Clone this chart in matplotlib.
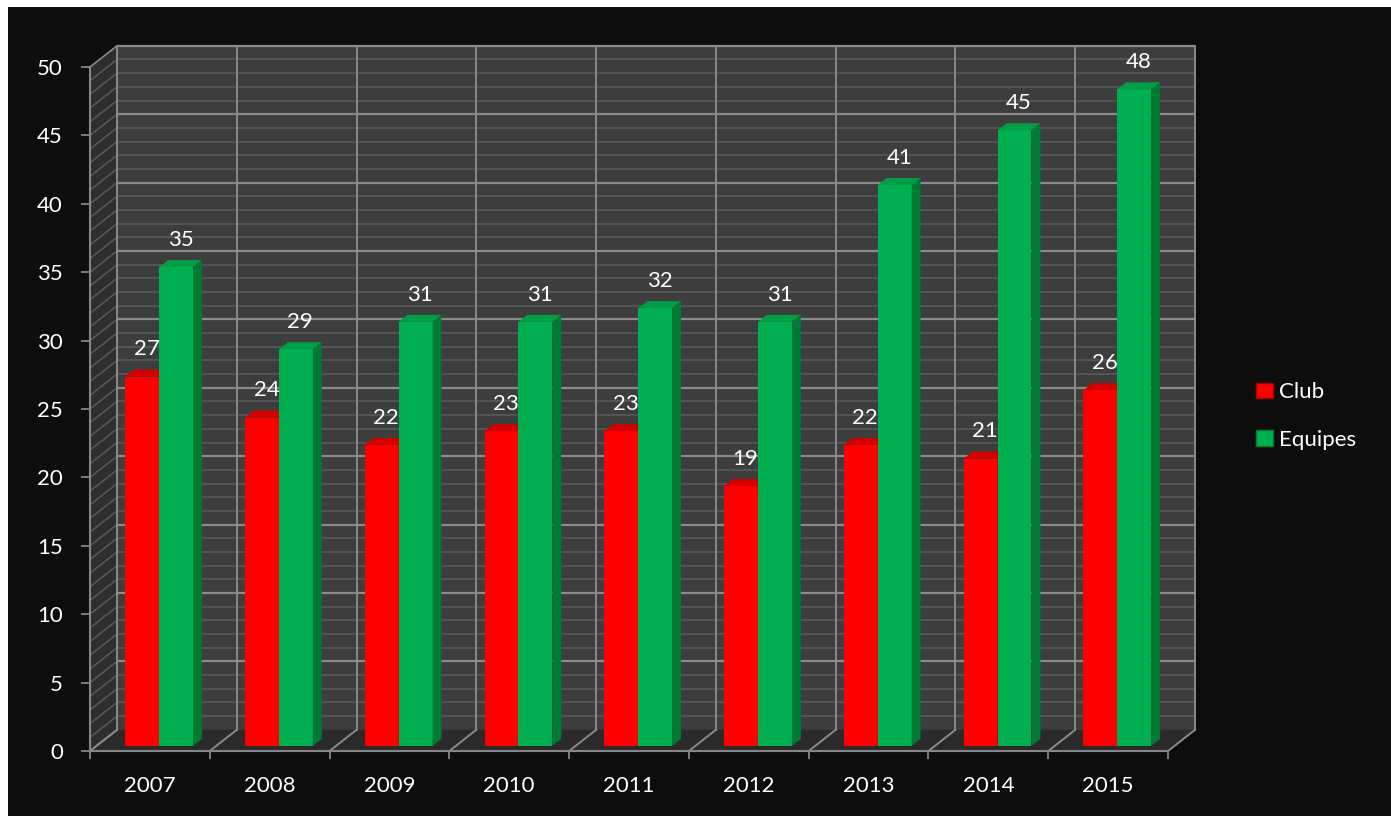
import matplotlib
matplotlib.use("Agg")
import matplotlib.pyplot as plt
from matplotlib.patches import Polygon, Rectangle, Patch
import numpy as np

# ---------------- data ----------------
years = ["2007", "2008", "2009", "2010", "2011", "2012", "2013", "2014", "2015"]
club = [27, 24, 22, 23, 23, 19, 22, 21, 26]
equipes = [35, 29, 31, 31, 32, 31, 41, 45, 48]
series_names = ["Club", "Equipes"]

# ---------------- style ----------------
W, H = 1391, 816
FONT = ["Lato", "DejaVu Sans"]
plt.rcParams["font.family"] = FONT
FS = 16

BG = "#0d0d0d"
WALL = "#3d3d3d"
SIDE = "#2e2e2e"
FLOOR = "#2a2a2a"
MINOR = "#575757"
MAJOR = "#8a8a8a"
AXIS = "#868686"

faces = {
    "Club": ("#ff0000", "#d40000", "#a80000"),
    "Equipes": ("#00b050", "#009e46", "#007a35"),
}

# 3D depth offsets (in data units of the front plane)
DX = 0.2254
DY = 1.55
ZF, ZB = 0.24, 0.57          # bar depth range (fraction of depth)
BW = 0.283                    # bar width
OFFS = [0.24, 0.523]          # bar left positions inside a category
YMAX = 50

fig = plt.figure(figsize=(W / 100, H / 100), dpi=100, facecolor=BG)
# white strips at top and left edge of the picture
fig.patches.append(Rectangle((0, (H - 7) / H), 1, 7 / H + 0.01,
                             transform=fig.transFigure, facecolor="white",
                             edgecolor="none", zorder=-10))
fig.patches.append(Rectangle((0, 0), 8 / W, 1,
                             transform=fig.transFigure, facecolor="white",
                             edgecolor="none", zorder=-10))

ax = fig.add_axes([90 / W, (H - 751) / H, 1078 / W, 684 / H])
ax.set_facecolor("none")
ax.set_xlim(0, len(years))
ax.set_ylim(0, YMAX)

n = len(years)

def P(x, y, z):
    return (x + z * DX, y + z * DY)

# back wall
ax.add_patch(Polygon([P(0, 0, 1), P(n, 0, 1), P(n, YMAX, 1), P(0, YMAX, 1)],
                     closed=True, facecolor=WALL, edgecolor="none", zorder=1, clip_on=False))
# left side wall
ax.add_patch(Polygon([P(0, 0, 0), P(0, 0, 1), P(0, YMAX, 1), P(0, YMAX, 0)],
                     closed=True, facecolor=SIDE, edgecolor="none", zorder=1, clip_on=False))
# floor
ax.add_patch(Polygon([P(0, 0, 0), P(n, 0, 0), P(n, 0, 1), P(0, 0, 1)],
                     closed=True, facecolor=FLOOR, edgecolor="none", zorder=1, clip_on=False))

# horizontal gridlines on back wall and side wall
for v in range(0, YMAX + 1):
    major = (v % 5 == 0)
    col = MAJOR if major else MINOR
    lw = 1.6 if major else 1.3
    if v > 0:
        x0, y0 = P(0, v, 1)
        x1, y1 = P(n, v, 1)
        ax.plot([x0, x1], [y0, y1], color=col, lw=lw, zorder=2, clip_on=False,
                solid_capstyle="butt")
    a = P(0, v, 0); b = P(0, v, 1)
    ax.plot([a[0], b[0]], [a[1], b[1]], color=MAJOR if v in (0, YMAX) else MINOR,
            lw=1.2, zorder=2, clip_on=False)

# vertical gridlines on back wall + floor diagonals
for i in range(0, n + 1):
    b0 = P(i, 0, 1); b1 = P(i, YMAX, 1)
    ax.plot([b0[0], b1[0]], [b0[1], b1[1]], color=MAJOR, lw=1.4, zorder=2, clip_on=False)
    f0 = P(i, 0, 0)
    ax.plot([f0[0], b0[0]], [f0[1], b0[1]], color=MAJOR, lw=1.4, zorder=2, clip_on=False)

# bars
for i in range(n):
    for s, (name, vals) in enumerate(zip(series_names, [club, equipes])):
        front, top, side = faces[name]
        v = vals[i]
        xl = i + OFFS[s]
        xr = xl + BW
        ax.bar(xl + ZF * DX, v, width=BW, bottom=ZF * DY, align="edge",
               color=front, edgecolor="none", zorder=5 + i * 2 + s)
        ax.add_patch(Polygon([P(xl, v, ZF), P(xr, v, ZF), P(xr, v, ZB), P(xl, v, ZB)],
                             closed=True, facecolor=top, edgecolor="none",
                             zorder=5 + i * 2 + s, clip_on=False))
        ax.add_patch(Polygon([P(xr, 0, ZF), P(xr, 0, ZB), P(xr, v, ZB), P(xr, v, ZF)],
                             closed=True, facecolor=side, edgecolor="none",
                             zorder=5 + i * 2 + s, clip_on=False))
        lx, _ = P(xl + BW / 2, v, (ZF + ZB) / 2)
        ly = v + ZB * DY
        ax.annotate(str(v), (lx, ly), xytext=(0, 14.5), textcoords="offset points",
                    ha="center", va="center", color="white", fontsize=FS,
                    zorder=50, annotation_clip=False)

# axes styling
for sp in ["top", "right"]:
    ax.spines[sp].set_visible(False)
for sp in ["left", "bottom"]:
    ax.spines[sp].set_color(AXIS)
    ax.spines[sp].set_linewidth(1.5)
    ax.spines[sp].set_zorder(3)

ax.set_yticks(range(0, YMAX + 1, 5))
ax.set_xticks(range(0, n + 1))
ax.set_xticklabels([])
ax.set_xticks(np.arange(n) + 0.5, minor=True)
ax.set_xticklabels(years, minor=True)
ax.tick_params(axis="y", which="major", length=6.5, width=1.3, color=AXIS,
               labelcolor="white", labelsize=FS, pad=13)
ax.tick_params(axis="x", which="major", length=6, width=1.3, color=AXIS)
ax.tick_params(axis="x", which="minor", length=0, labelcolor="white",
               labelsize=FS, pad=18)

handles = [Patch(facecolor=faces[nm][0], edgecolor=faces[nm][2], label=nm)
           for nm in series_names]
leg = fig.legend(handles=handles, loc="center left",
                 bbox_to_anchor=(1256 / W, 1 - 416 / H), frameon=False,
                 fontsize=FS, labelcolor="white", handlelength=0.75,
                 handleheight=0.7, handletextpad=0.3, labelspacing=1.25,
                 borderaxespad=0, borderpad=0)

fig.savefig("out.png", dpi=100, facecolor=fig.get_facecolor())
